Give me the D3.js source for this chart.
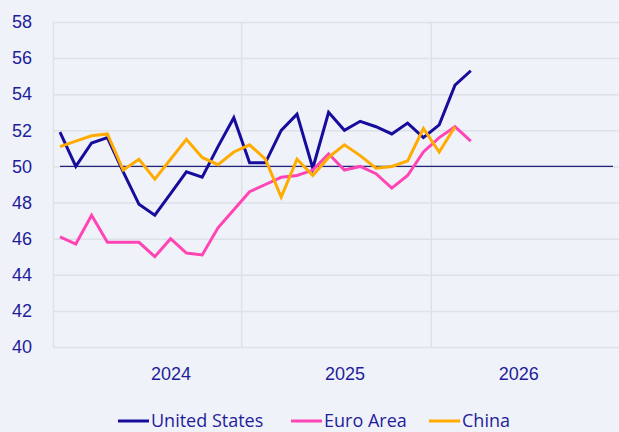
<!DOCTYPE html>
<html>
<head>
<meta charset="utf-8">
<script src="https://cdn.jsdelivr.net/npm/d3@7"></script>
<style>
  html, body { margin: 0; padding: 0; background: #eff3f9; }
  svg { display: block; font-family: "Open Sans", "Noto Sans", sans-serif; }
</style>
</head>
<body>
<div id="chart"></div>
<script>
// monthly readings, index 0 = first month shown
var usValues = [51.9, 50.0, 51.3, 51.6, 49.7, 47.9, 47.3, 48.5, 49.7, 49.4, 51.1, 52.7, 50.2, 50.2,
  52.0, 52.9, 49.9, 53.0, 52.0, 52.5, 52.2, 51.8, 52.4, 51.6, 52.3, 54.5, 55.3];
var euroValues = [46.1, 45.7, 47.3, 45.8, 45.8, 45.8, 45.0, 46.0, 45.2, 45.1, 46.6, 47.6, 48.6, 49.0,
  49.4, 49.5, 49.8, 50.7, 49.8, 50.0, 49.6, 48.8, 49.5, 50.8, 51.6, 52.2, 51.4];
var chinaValues = [51.1, 51.4, 51.7, 51.8, 49.8, 50.4, 49.3, 50.4, 51.5, 50.5, 50.1, 50.8, 51.2, 50.4,
  48.3, 50.4, 49.5, 50.5, 51.2, 50.6, 49.9, 50.0, 50.3, 52.1, 50.8, 52.2];

var seriesNames = ["United States", "Euro Area", "China"];
var seriesColors = ["#170c9c", "#ff45b5", "#ffab00"];

var yTicks = [40, 42, 44, 46, 48, 50, 52, 54, 56, 58];
var xLabelPos = [7, 18, 29];
var xLabels = ["2024", "2025", "2026"];
var xGridPos = [11.5, 23.5];
var refLevel = 50;
var refSpan = [0, 35];

var W = 619, H = 432;
var margin = {top: 22, right: 0, bottom: 85, left: 53};
var width = W - margin.left - margin.right;
var height = H - margin.top - margin.bottom;
var textColor = "#241c9b";
var gridColor = "#dde1e8";

var xS = d3.scaleLinear().domain([-0.443, 35.38]).range([0, width]);
var yS = d3.scaleLinear().domain([40, 58]).range([height, 0]);

var svg = d3.select("#chart").append("svg")
    .attr("width", W)
    .attr("height", H)
  .append("g")
    .attr("transform", "translate(" + margin.left + "," + margin.top + ")");

//horizontal grid + y labels
var yAxis = d3.axisLeft(yS)
    .tickValues(yTicks)
    .tickSizeInner(-width)
    .tickSizeOuter(0)
    .tickPadding(21);

var gy = svg.append("g").attr("class", "axisY").call(yAxis);
gy.select(".domain").attr("stroke", gridColor).attr("stroke-width", 1.5);
gy.selectAll(".tick line").attr("stroke", gridColor).attr("stroke-width", 1.5);
gy.selectAll(".tick text")
    .attr("fill", textColor)
    .style("font-size", "18px");

//vertical grid at year boundaries
svg.selectAll(".vgrid")
    .data(xGridPos)
  .enter().append("line")
    .attr("class", "vgrid")
    .attr("x1", function(d) { return xS(d); })
    .attr("x2", function(d) { return xS(d); })
    .attr("y1", 0)
    .attr("y2", height)
    .attr("stroke", gridColor)
    .attr("stroke-width", 1.5);

//year labels
var xAxis = d3.axisBottom(xS)
    .tickValues(xLabelPos)
    .tickFormat(function(d, i) { return xLabels[i]; })
    .tickSize(0)
    .tickPadding(20);

var gx = svg.append("g")
    .attr("class", "axisX")
    .attr("transform", "translate(0," + height + ")")
    .call(xAxis);
gx.select(".domain").remove();
gx.selectAll(".tick text")
    .attr("fill", textColor)
    .style("font-size", "18px");

//50 reference line
svg.append("line")
    .attr("x1", xS(refSpan[0]))
    .attr("x2", xS(refSpan[1]))
    .attr("y1", yS(refLevel))
    .attr("y2", yS(refLevel))
    .attr("stroke", "#23237a")
    .attr("stroke-width", 1.2);

var line = d3.line()
    .x(function(d, i) { return xS(i); })
    .y(function(d) { return yS(d); });

var allSeries = [usValues, euroValues, chinaValues];
var order = [0, 1, 2];

svg.selectAll(".plot")
    .data(order)
  .enter().append("path")
    .attr("class", "plot")
    .attr("fill", "none")
    .attr("stroke", function(d) { return seriesColors[d]; })
    .attr("stroke-width", 3)
    .attr("stroke-linejoin", "miter")
    .attr("d", function(d) { return line(allSeries[d]); });

//legend
var legendX = [118, 291, 429];
var legend = d3.select("svg").append("g").attr("class", "legend");
var item = legend.selectAll(".item")
    .data(seriesNames)
  .enter().append("g")
    .attr("class", "item")
    .attr("transform", function(d, i) { return "translate(" + legendX[i] + ",421)"; });

item.append("line")
    .attr("x1", 0)
    .attr("x2", 31)
    .attr("stroke", function(d, i) { return seriesColors[i]; })
    .attr("stroke-width", 3);

item.append("text")
    .attr("x", 33)
    .attr("dy", "0.36em")
    .attr("fill", textColor)
    .style("font-size", "18px")
    .text(function(d) { return d; });
</script>
</body>
</html>
